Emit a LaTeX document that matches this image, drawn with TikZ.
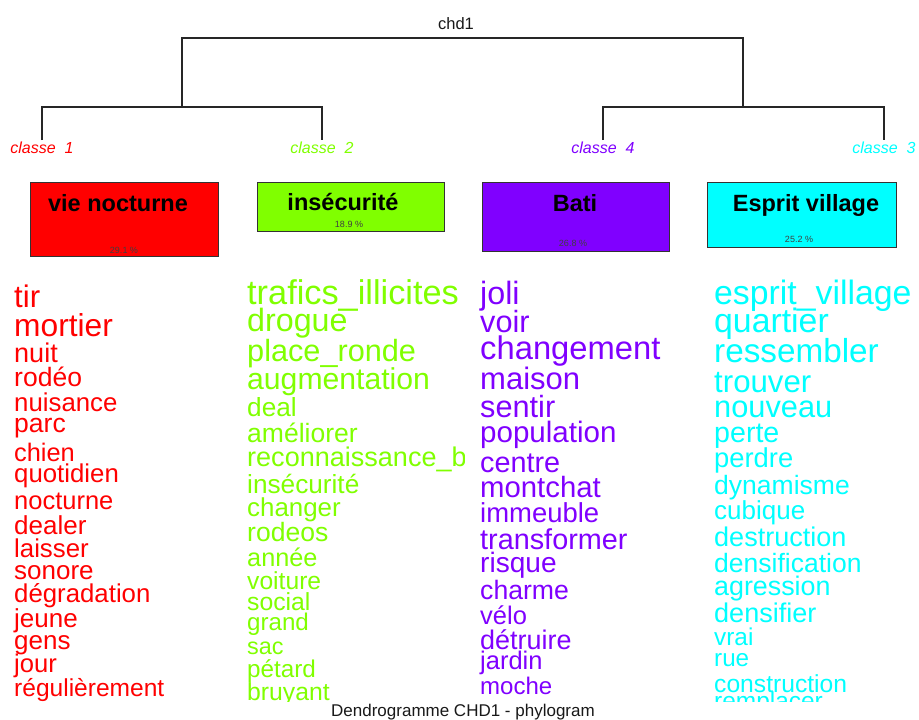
\documentclass[tikz,border=0pt]{standalone}
\usepackage{fontspec}
\setmainfont{Liberation Sans}
\definecolor{cRed}{HTML}{FF0000}
\definecolor{cGreen}{HTML}{80FF00}
\definecolor{cPurple}{HTML}{8000FF}
\definecolor{cCyan}{HTML}{00FFFF}
\newcommand\fsz[1]{\fontsize{#1}{#1}\selectfont}
\newcommand\wsz[1]{\fontsize{\the\dimexpr #1pt*104/100\relax}{\the\dimexpr #1pt*104/100\relax}\selectfont}
\begin{document}
\begin{tikzpicture}[x=1pt,y=-1pt,
  word/.style={anchor=mid west,inner sep=0pt},
  wred/.style={word,text=cRed},
  wgreen/.style={word,text=cGreen},
  wpurple/.style={word,text=cPurple},
  wcyan/.style={word,text=cCyan},
  branch/.style={draw=black!85,line width=1.1pt},
  classlbl/.style={anchor=base,inner sep=0pt,font=\fsz{16}\itshape},
  catbox/.style={draw=black!80,line width=1.3pt,anchor=north west,inner sep=0pt},
  boxtitle/.style={anchor=base,inner sep=0pt,font=\fsz{23.5}\bfseries,text=black},
  pct/.style={anchor=center,inner sep=0pt,font=\fsz{9},text=black!75}]
\fill[white] (0,0) rectangle (919,720);
\useasboundingbox (0,0) rectangle (919,720);

% title
\node[anchor=base,inner sep=0pt,font=\fsz{16.5},text=black!90] (title) at (456,29) {chd1};

% dendrogram
\coordinate (c1) at (42,140);
\coordinate (c2) at (322,140);
\coordinate (c4) at (603,140);
\coordinate (c3) at (884,140);
\coordinate (j12) at (182,107);
\coordinate (j43) at (743,107);
\coordinate (rt) at (462.5,38);
\draw[branch] (c1) -- (c1 |- j12) -- (c2 |- j12) -- (c2);
\draw[branch] (c4) -- (c4 |- j43) -- (c3 |- j43) -- (c3);
\draw[branch] (j12) -- (j12 |- rt) -- (j43 |- rt) -- (j43);

\node[classlbl,text=cRed] (l1) at (42,153) {classe~~1};
\node[classlbl,text=cGreen] (l2) at (322,153) {classe~~2};
\node[classlbl,text=cPurple] (l4) at (603,153) {classe~~4};
\node[classlbl,text=cCyan] (l3) at (884,153) {classe~~3};

% boxes
\node[catbox,fill=cRed,minimum width=188pt,minimum height=74pt] (b1) at (30,182) {};
\node[catbox,fill=cGreen,minimum width=187pt,minimum height=49pt] (b2) at (257,182) {};
\node[catbox,fill=cPurple,minimum width=187pt,minimum height=69pt] (b3) at (482,182) {};
\node[catbox,fill=cCyan,minimum width=189pt,minimum height=65pt] (b4) at (707,182) {};

\node[boxtitle] (t1) at (118,211) {vie nocturne};
\node[boxtitle] (t2) at (343,210) {insécurité};
\node[boxtitle] (t3) at (575,211.5) {Bati};
\node[boxtitle] (t4) at (806,211) {Esprit village};

\node[pct] (p1) at (124,250) {29.1 \%};
\node[pct] (p2) at (349,224) {18.9 \%};
\node[pct] (p3) at (573,243) {26.8 \%};
\node[pct] (p4) at (799,239) {25.2 \%};

% word lists
\begin{scope}
\clip (0,265) rectangle (919,701);
% red
\node[wred,font=\wsz{30}]   (r1)  at (14,304.5) {tir};
\node[wred,font=\wsz{30.5}] (r2)  at (14,333.5) {mortier};
\node[wred,font=\wsz{26}]   (r3)  at (14,359.5) {nuit};
\node[wred,font=\wsz{25.5}] (r4)  at (14,383.5) {rodéo};
\node[wred,font=\wsz{24.8}] (r5)  at (14,408.5) {nuisance};
\node[wred,font=\wsz{25.5}] (r6)  at (14,429.5) {parc};
\node[wred,font=\wsz{24.4}] (r7)  at (14,458.5) {chien};
\node[wred,font=\wsz{24.8}] (r8)  at (14,479.5) {quotidien};
\node[wred,font=\wsz{24.5}] (r9)  at (14,506.5) {nocturne};
\node[wred,font=\wsz{25}]   (r10) at (14,531.5) {dealer};
\node[wred,font=\wsz{24.8}] (r11) at (14,554.5) {laisser};
\node[wred,font=\wsz{25}]   (r12) at (14,576.5) {sonore};
\node[wred,font=\wsz{24.8}] (r13) at (14,599.5) {dégradation};
\node[wred,font=\wsz{25}]   (r14) at (14,624.5) {jeune};
\node[wred,font=\wsz{25}]   (r15) at (14,646.5) {gens};
\node[wred,font=\wsz{24.6}] (r16) at (14,669.5) {jour};
\node[wred,font=\wsz{23.6}] (r17) at (14,693.5) {régulièrement};
% green
\begin{scope}
\clip (240,265) rectangle (464,701);
\node[wgreen,font=\wsz{33}]   (g1)  at (247,301.5) {trafics\_illicites};
\node[wgreen,font=\wsz{31}]   (g2)  at (247,328.5) {drogue};
\node[wgreen,font=\wsz{29.5}] (g3)  at (247,358.5) {place\_ronde};
\node[wgreen,font=\wsz{29}]   (g4)  at (247,386.5) {augmentation};
\node[wgreen,font=\wsz{25.2}] (g5)  at (247,413.5) {deal};
\node[wgreen,font=\wsz{25.5}] (g6)  at (247,439.5) {améliorer};
\node[wgreen,font=\wsz{26}]   (g7)  at (247,463.5) {reconnaissance\_bailleur};
\node[wgreen,font=\wsz{25.2}] (g8)  at (247,490.5) {insécurité};
\node[wgreen,font=\wsz{24.9}] (g9)  at (247,513.5) {changer};
\node[wgreen,font=\wsz{25.5}] (g10) at (247,538.5) {rodeos};
\node[wgreen,font=\wsz{24.3}] (g11) at (247,563.5) {année};
\node[wgreen,font=\wsz{23.7}] (g12) at (247,586.5) {voiture};
\node[wgreen,font=\wsz{23.8}] (g13) at (247,607.5) {social};
\node[wgreen,font=\wsz{23.2}] (g14) at (247,627.5) {grand};
\node[wgreen,font=\wsz{22.5}] (g15) at (247,651.5) {sac};
\node[wgreen,font=\wsz{23.3}] (g16) at (247,674.5) {pétard};
\node[wgreen,font=\wsz{23.8}] (g17) at (247,697.5) {bruyant};
\end{scope}
% purple
\node[wpurple,font=\wsz{31}]   (v1)  at (480,301.5) {joli};
\node[wpurple,font=\wsz{29.5}] (v2)  at (480,329.5) {voir};
\node[wpurple,font=\wsz{31.5}] (v3)  at (480,356.5) {changement};
\node[wpurple,font=\wsz{29.8}] (v4)  at (480,386.5) {maison};
\node[wpurple,font=\wsz{29.5}] (v5)  at (480,414.5) {sentir};
\node[wpurple,font=\wsz{28.4}] (v6)  at (480,439.5) {population};
\node[wpurple,font=\wsz{27.7}] (v7)  at (480,469.5) {centre};
\node[wpurple,font=\wsz{28.2}] (v8)  at (480,494.5) {montchat};
\node[wpurple,font=\wsz{26.4}] (v9)  at (480,519.5) {immeuble};
\node[wpurple,font=\wsz{27.7}] (v10) at (480,546.5) {transformer};
\node[wpurple,font=\wsz{27}]   (v11) at (480,569.5) {risque};
\node[wpurple,font=\wsz{25.6}] (v12) at (480,596.5) {charme};
\node[wpurple,font=\wsz{24.5}] (v13) at (480,621.5) {vélo};
\node[wpurple,font=\wsz{25.9}] (v14) at (480,646.5) {détruire};
\node[wpurple,font=\wsz{24.5}] (v15) at (480,666.5) {jardin};
\node[wpurple,font=\wsz{23.1}] (v16) at (480,691.5) {moche};
% cyan
\node[wcyan,font=\wsz{32.5}] (k1)  at (714,301.5) {esprit\_village};
\node[wcyan,font=\wsz{32.5}] (k2)  at (714,329.5) {quartier};
\node[wcyan,font=\wsz{32}]   (k3)  at (714,359.5) {ressembler};
\node[wcyan,font=\wsz{30}]   (k4)  at (714,389.5) {trouver};
\node[wcyan,font=\wsz{29.6}] (k5)  at (714,414.5) {nouveau};
\node[wcyan,font=\wsz{27.5}] (k6)  at (714,439.5) {perte};
\node[wcyan,font=\wsz{26.3}] (k7)  at (714,464.5) {perdre};
\node[wcyan,font=\wsz{25.5}] (k8)  at (714,491.5) {dynamisme};
\node[wcyan,font=\wsz{25}]   (k9)  at (714,516.5) {cubique};
\node[wcyan,font=\wsz{26}]   (k10) at (714,543.5) {destruction};
\node[wcyan,font=\wsz{25.5}] (k11) at (714,569.5) {densification};
\node[wcyan,font=\wsz{25.8}] (k12) at (714,592.5) {agression};
\node[wcyan,font=\wsz{26}]   (k13) at (714,619.5) {densifier};
\node[wcyan,font=\wsz{23.4}] (k14) at (714,642.5) {vrai};
\node[wcyan,font=\wsz{23.3}] (k15) at (714,663.5) {rue};
\node[wcyan,font=\wsz{23.7}] (k16) at (714,689.5) {construction};
\node[wcyan,font=\wsz{23.5}] (k17) at (714,707) {remplacer};
\end{scope}

% caption
\node[anchor=center,inner sep=0pt,font=\fsz{17},text=black!90] (cap) at (463,712) {Dendrogramme CHD1 - phylogram};
\end{tikzpicture}
\end{document}
